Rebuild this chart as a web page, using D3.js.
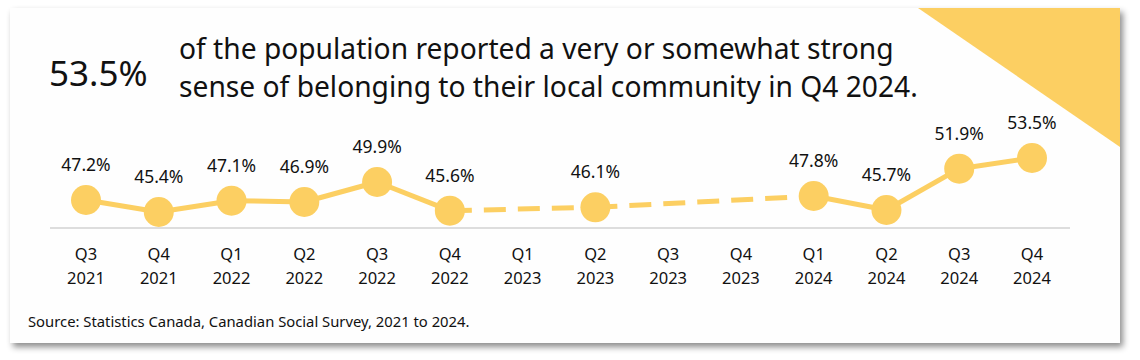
<!DOCTYPE html>
<html><head><meta charset="utf-8">
<script src="https://cdn.jsdelivr.net/npm/d3@7"></script>
<style>
body{margin:0;background:#fff;font-family:"Noto Sans","Open Sans",sans-serif;}
</style></head><body>
<svg id="c" width="1140" height="360"></svg>
<script>
const quarters = ["Q3","Q4","Q1","Q2","Q3","Q4","Q1","Q2","Q3","Q4","Q1","Q2","Q3","Q4"];
const years = ["2021","2021","2022","2022","2022","2022","2023","2023","2023","2023","2024","2024","2024","2024"];
const values = [47.2,45.4,47.1,46.9,49.9,45.6,null,46.1,null,null,47.8,45.7,51.9,53.5];
const headline = "53.5%";
const titleLines = ["of the population reported a very or somewhat strong","sense of belonging to their local community in Q4 2024."];
const source = "Source: Statistics Canada, Canadian Social Survey, 2021 to 2024.";

const svg = d3.select("#c");
const defs = svg.append("defs");
const f = defs.append("filter").attr("id","sh").attr("x","-5%").attr("y","-5%").attr("width","110%").attr("height","120%");
f.append("feDropShadow").attr("dx",3).attr("dy",4).attr("stdDeviation",3).attr("flood-color","#000").attr("flood-opacity",0.45);

const cardL=10, cardT=8, cardR=1120, cardB=343;
svg.append("rect").attr("x",cardL).attr("y",cardT).attr("width",cardR-cardL).attr("height",cardB-cardT)
  .attr("fill","#fefefe").attr("filter","url(#sh)");
svg.append("path").attr("d",`M918,${cardT}L${cardR},${cardT}L${cardR},147Z`).attr("fill","#fccf62");

const yellow="#fccf62";
svg.append("text").attr("x",49).attr("y",86).attr("font-size",35).attr("fill","#111").text(headline);
titleLines.forEach((t,i)=>svg.append("text").attr("x",179).attr("y",59+i*38).attr("font-size",28.2).attr("fill","#111").text(t));

const idx = d3.range(quarters.length);
const x = d3.scaleLinear().domain([0,quarters.length-1]).range([86,1032]);
const y = d3.scaleLinear().domain([43,53.5]).range([228,158]);

svg.append("line").attr("x1",50).attr("x2",1070).attr("y1",228).attr("y2",228).attr("stroke","#ddd").attr("stroke-width",2);

const pts = idx.filter(i=>values[i]!=null).map(i=>({i,v:values[i]}));
for(let k=0;k<pts.length-1;k++){
  const a=pts[k], b=pts[k+1];
  const dashed = (a.i>=5 && b.i<=10);
  svg.append("line").attr("x1",x(a.i)).attr("y1",y(a.v)).attr("x2",x(b.i)).attr("y2",y(b.v))
    .attr("stroke",yellow).attr("stroke-width",5)
    .attr("stroke-dasharray",dashed?"22,12":null);
}
svg.selectAll("circle.d").data(pts).join("circle").attr("cx",d=>x(d.i)).attr("cy",d=>y(d.v)).attr("r",15).attr("fill",yellow);
svg.selectAll("text.v").data(pts).join("text").attr("x",d=>x(d.i)).attr("y",d=>y(d.v)-29)
  .attr("text-anchor","middle").attr("font-size",17.5).attr("fill","#111").text(d=>d.v.toFixed(1)+"%");

const g = svg.append("g");
idx.forEach(i=>{
  g.append("text").attr("x",x(i)).attr("y",260).attr("text-anchor","middle").attr("font-size",16.5).attr("fill","#111").text(quarters[i]);
  g.append("text").attr("x",x(i)).attr("y",284).attr("text-anchor","middle").attr("font-size",16.5).attr("fill","#111").text(years[i]);
});
svg.append("text").attr("x",28).attr("y",327).attr("font-size",14.8).attr("fill","#111").text(source);
</script></body></html>
